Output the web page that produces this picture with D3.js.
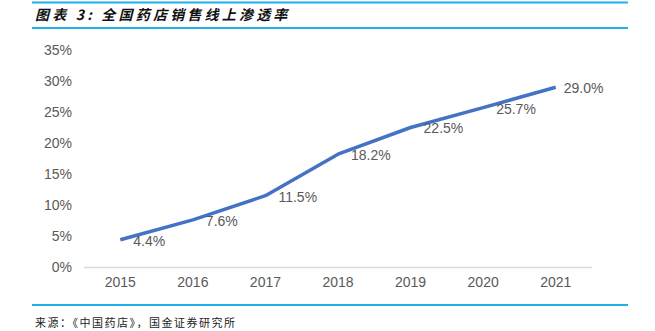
<!DOCTYPE html>
<html>
<head>
<meta charset="utf-8">
<script src="https://cdn.jsdelivr.net/npm/d3@7"></script>
<style>
  html, body { margin: 0; padding: 0; background: #fff; }
  svg { display: block; }
</style>
</head>
<body>
<svg id="chart" width="655" height="331"></svg>
<script>
// Online penetration of national pharmacy sales, 2015-2021
const years = ["2015", "2016", "2017", "2018", "2019", "2020", "2021"];
const penetration = [4.4, 7.6, 11.5, 18.2, 22.5, 25.7, 29.0];
const yTicks = [0, 5, 10, 15, 20, 25, 30, 35];
const titleText = "图表 3: 全国药店销售线上渗透率";
const sourceText = "来源：《中国药店》，国金证券研究所";

const svg = d3.select("#chart");
const plot = { left: 84, right: 592, top: 50, bottom: 267 };

const x = d3.scaleBand().domain(years).range([plot.left, plot.right]);
const y = d3.scaleLinear().domain([0, 35]).range([plot.bottom, plot.top]);
const cx = d => x(d) + x.bandwidth() / 2;

const blue = "#1FB0EE";
const textGrey = "#595959";

// header rules and title
svg.append("line").attr("x1", 32).attr("x2", 628).attr("y1", 2.5).attr("y2", 2.5)
  .attr("stroke", blue).attr("stroke-width", 2);
svg.append("line").attr("x1", 32).attr("x2", 628).attr("y1", 28).attr("y2", 28)
  .attr("stroke", blue).attr("stroke-width", 2);
svg.append("text")
  .attr("x", 35).attr("y", 20)
  .attr("font-family", "'Noto Sans CJK SC', sans-serif")
  .attr("font-size", 14).attr("font-style", "italic").attr("font-weight", 700)
  .attr("letter-spacing", 3.2)
  .attr("fill", "#111")
  .text(titleText);

// footer rule and source
svg.append("line").attr("x1", 32).attr("x2", 628).attr("y1", 305).attr("y2", 305)
  .attr("stroke", blue).attr("stroke-width", 2);
svg.append("text")
  .attr("x", 35).attr("y", 327)
  .attr("font-family", "'Noto Sans CJK SC', sans-serif")
  .attr("font-size", 11).attr("letter-spacing", 1.5)
  .attr("fill", "#222")
  .text(sourceText);

const font = "'Liberation Sans', Arial, sans-serif";

// y axis (labels only)
const yAxis = d3.axisLeft(y).tickValues(yTicks).tickFormat(d => d + "%").tickSize(0).tickPadding(0);
const yg = svg.append("g").attr("transform", `translate(72,0)`).call(yAxis);
yg.select(".domain").remove();
yg.selectAll("text").attr("font-family", font).attr("font-size", 14).attr("fill", textGrey);

// x axis with light baseline
const xAxis = d3.axisBottom(x).tickSize(0).tickPadding(10);
const xg = svg.append("g").attr("transform", `translate(0,${plot.bottom})`).call(xAxis);
xg.select(".domain").attr("stroke", "#d9d9d9").attr("stroke-width", 1.3)
  .attr("d", `M${plot.left},0.5H${plot.right}`);
xg.selectAll("text").attr("font-family", font).attr("font-size", 14).attr("fill", textGrey);

// series line
const data = years.map((yr, i) => ({ yr, v: penetration[i] }));
const line = d3.line().x(d => cx(d.yr)).y(d => y(d.v));
svg.append("path").datum(data)
  .attr("d", line)
  .attr("fill", "none")
  .attr("stroke", "#4472C4")
  .attr("stroke-width", 3.5)
  .attr("stroke-linejoin", "round");

// value labels to the right of each point
svg.append("g").selectAll("text").data(data).join("text")
  .attr("x", (d, i) => cx(d.yr) + (i === data.length - 1 ? 8 : 13))
  .attr("y", d => y(d.v) + 1)
  .attr("dy", "0.35em")
  .attr("font-family", font).attr("font-size", 14).attr("fill", textGrey)
  .text(d => d.v.toFixed(1) + "%");
</script>
</body>
</html>
